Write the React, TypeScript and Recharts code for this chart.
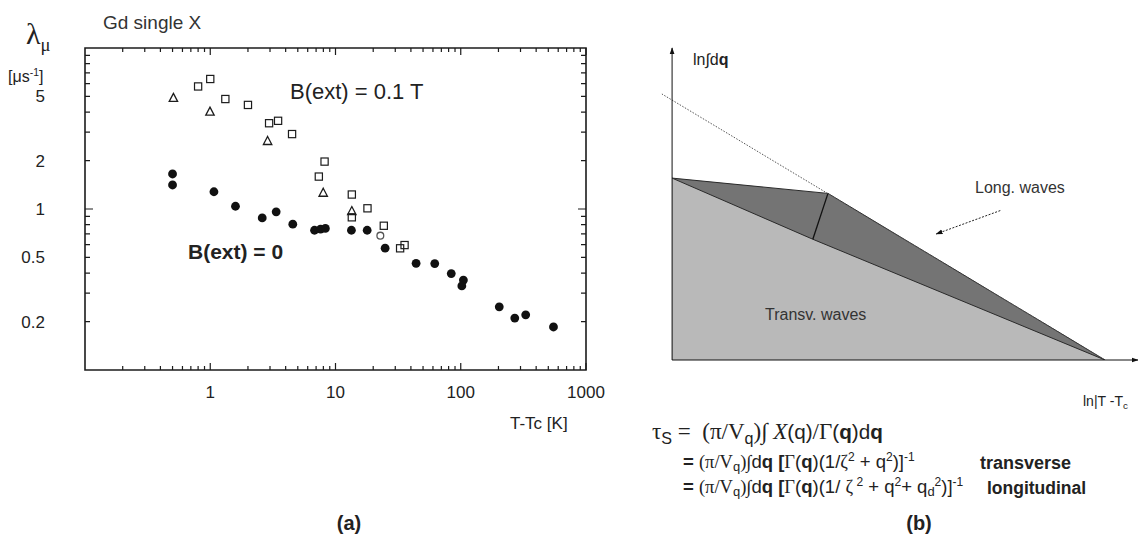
import React from 'react'
import {
  ScatterChart,
  Scatter,
  XAxis,
  YAxis,
  ComposedChart,
  Area,
  Line,
  ReferenceLine,
  ReferenceArea,
} from 'recharts'

/* ------------------------------------------------------------------ */
/*  Data, panel (a): muon relaxation rate vs T - Tc                    */
/* ------------------------------------------------------------------ */

// B(ext) = 0, filled circles
const B0_T = [0.5, 0.5, 1.07, 1.59, 2.6, 3.36, 4.56, 6.8, 7.6, 8.3, 13.4, 17.9, 24.9, 44, 62, 84, 105, 102, 203, 270, 330, 550]
const B0_RATE = [1.65, 1.41, 1.28, 1.04, 0.88, 0.96, 0.805, 0.738, 0.75, 0.757, 0.738, 0.738, 0.571, 0.46, 0.458, 0.397, 0.362, 0.333, 0.247, 0.21, 0.22, 0.185]

// B(ext) = 0.1 T, open squares
const SQ_T = [0.8, 1.0, 1.32, 2.0, 2.95, 3.48, 4.5, 8.18, 7.36, 13.5, 18.0, 24.3, 13.5, 32.8, 35.6]
const SQ_RATE = [5.77, 6.42, 4.82, 4.43, 3.41, 3.53, 2.92, 1.97, 1.59, 1.23, 1.01, 0.787, 0.888, 0.57, 0.597]

// B(ext) = 0.1 T, open triangles
const TRI_T = [0.508, 0.995, 2.87, 7.98, 13.5]
const TRI_RATE = [4.89, 4.02, 2.64, 1.26, 0.97]

// stray open circle
const OPEN_T = [22.8]
const OPEN_RATE = [0.683]

const X_MAJOR = [1, 10, 100, 1000]
const X_LABELS = ['1', '10', '100', '1000']
const X_MINOR = [
  0.2, 0.3, 0.4, 0.5, 0.6, 0.7, 0.8, 0.9,
  2, 3, 4, 5, 6, 7, 8, 9,
  20, 30, 40, 50, 60, 70, 80, 90,
  200, 300, 400, 500, 600, 700, 800, 900,
]
const Y_MAJOR = [1]
const Y_MINOR = [0.2, 0.3, 0.4, 0.5, 0.6, 0.7, 0.8, 0.9, 2, 3, 4, 5, 6, 7, 8, 9]
const Y_LABELED = [0.2, 0.5, 1, 2, 5]
const Y_LABELS = ['0.2', '0.5', '1', '2', '5']

/* ------------------------------------------------------------------ */
/*  Data, panel (b): schematic ln∫dq vs ln|T - Tc|                     */
/* ------------------------------------------------------------------ */

const DARK_X = [0, 36, 100]
const DARK_Y = [58.3, 53.4, 0]
const LIGHT_X = [0, 32.5, 100]
const LIGHT_Y = [58.3, 38.7, 0]
const DIVIDER_X = [36, 32.5]
const DIVIDER_Y = [53.4, 38.7]
const ASYMPTOTE_X = [-2.4, 100]
const ASYMPTOTE_Y = [85.3, 0]

const zip = (xs: number[], ys: number[]) => xs.map((x, i) => ({ x, y: ys[i] }))

/* ------------------------------------------------------------------ */
/*  Styles                                                             */
/* ------------------------------------------------------------------ */

const SANS = '"Liberation Sans", Arial, Helvetica, sans-serif'
const SERIF = '"Liberation Serif", "Times New Roman", serif'
const INK = '#1c1c1c'

/* ------------------------------------------------------------------ */
/*  Marker shapes                                                      */
/* ------------------------------------------------------------------ */

const Dot = (p: any) => <circle cx={p.cx} cy={p.cy} r={4.4} fill="#111" />
const OpenDot = (p: any) => (
  <circle cx={p.cx} cy={p.cy} r={3.4} fill="none" stroke="#555" strokeWidth={1.3} />
)
const Square = (p: any) => (
  <rect x={p.cx - 3.6} y={p.cy - 3.6} width={7.2} height={7.2} fill="none" stroke={INK} strokeWidth={1.2} />
)
const Triangle = (p: any) => (
  <path
    d={`M${p.cx},${p.cy - 4.6} L${p.cx + 4.2},${p.cy + 3.4} L${p.cx - 4.2},${p.cy + 3.4} Z`}
    fill="none"
    stroke={INK}
    strokeWidth={1.3}
  />
)

/* ------------------------------------------------------------------ */
/*  Inward tick marks (drawn on reference lines) and tick labels      */
/* ------------------------------------------------------------------ */

function vTicks(len: number) {
  return function VTicks(p: any) {
    const top = Math.min(p.y1, p.y2)
    const bot = Math.max(p.y1, p.y2)
    return (
      <path d={`M${p.x1},${bot}v${-len}M${p.x1},${top}v${len}`} stroke={INK} strokeWidth={1.2} fill="none" />
    )
  }
}

function hTicks(len: number) {
  return function HTicks(p: any) {
    const left = Math.min(p.x1, p.x2)
    const right = Math.max(p.x1, p.x2)
    return (
      <path d={`M${left},${p.y1}h${len}M${right},${p.y1}h${-len}`} stroke={INK} strokeWidth={1.2} fill="none" />
    )
  }
}

function XLabel(props: any) {
  const { x, y, payload } = props
  const i = X_MAJOR.indexOf(payload.value)
  if (i < 0) return <g />
  return (
    <text x={x} y={y + 28} textAnchor="middle" fontFamily={SANS} fontSize={17} fill="#222">
      {X_LABELS[i]}
    </text>
  )
}

function YLabel(props: any) {
  const { x, y, payload } = props
  const i = Y_LABELED.indexOf(payload.value)
  if (i < 0) return <g />
  return (
    <text x={x - 40} y={y + 6} textAnchor="end" fontFamily={SANS} fontSize={17} fill="#222">
      {Y_LABELS[i]}
    </text>
  )
}

/* ------------------------------------------------------------------ */
/*  Absolutely placed text                                             */
/* ------------------------------------------------------------------ */

function Txt({ x, y, size = 16, center = false, style, children }: any) {
  return (
    <div
      style={{
        position: 'absolute',
        left: x,
        top: y,
        transform: center ? 'translate(-50%, -50%)' : 'translateY(-50%)',
        fontFamily: SANS,
        fontSize: size,
        lineHeight: 1.15,
        whiteSpace: 'nowrap',
        color: '#222',
        ...style,
      }}
    >
      {children}
    </div>
  )
}

const sub = { fontSize: '0.7em', verticalAlign: '-0.3em' }
const sup = { fontSize: '0.65em', verticalAlign: '0.55em' }

/* ------------------------------------------------------------------ */
/*  Panel (a)                                                          */
/* ------------------------------------------------------------------ */

function PanelA() {
  const xTicks = [...X_MINOR, ...X_MAJOR].sort((a, b) => a - b)
  const yTicks = [...Y_MINOR, ...Y_MAJOR].sort((a, b) => a - b)
  return (
    <div style={{ position: 'absolute', left: 0, top: 0 }}>
      <ScatterChart width={620} height={440} margin={{ top: 48, right: 34, bottom: 40, left: 25 }}>
        <XAxis
          xAxisId="bottom"
          type="number"
          dataKey="x"
          scale="log"
          domain={[0.1, 1000]}
          allowDataOverflow
          ticks={xTicks}
          interval={0}
          tickSize={0}
          tickMargin={0}
          tickLine={false}
          tick={XLabel}
          axisLine={false}
          height={30}
        />
        <YAxis
          yAxisId="left"
          type="number"
          dataKey="y"
          scale="log"
          domain={[0.1, 10]}
          allowDataOverflow
          ticks={yTicks}
          interval={0}
          tickSize={0}
          tickMargin={0}
          tickLine={false}
          tick={YLabel}
          axisLine={false}
          width={60}
        />
        <ReferenceArea
          xAxisId="bottom"
          yAxisId="left"
          x1={0.1}
          x2={1000}
          y1={0.1}
          y2={10}
          fill="none"
          fillOpacity={0}
          stroke={INK}
          strokeWidth={1.6}
          ifOverflow="visible"
        />
        {X_MINOR.map((v) => (
          <ReferenceLine key={`xm${v}`} xAxisId="bottom" yAxisId="left" x={v} shape={vTicks(4)} />
        ))}
        {X_MAJOR.map((v) => (
          <ReferenceLine key={`xM${v}`} xAxisId="bottom" yAxisId="left" x={v} shape={vTicks(7)} ifOverflow="visible" />
        ))}
        {Y_MINOR.map((v) => (
          <ReferenceLine key={`ym${v}`} xAxisId="bottom" yAxisId="left" y={v} shape={hTicks(5)} />
        ))}
        {Y_MAJOR.map((v) => (
          <ReferenceLine key={`yM${v}`} xAxisId="bottom" yAxisId="left" y={v} shape={hTicks(8)} />
        ))}
        <Scatter xAxisId="bottom" yAxisId="left" data={zip(SQ_T, SQ_RATE)} shape={Square} isAnimationActive={false} />
        <Scatter xAxisId="bottom" yAxisId="left" data={zip(TRI_T, TRI_RATE)} shape={Triangle} isAnimationActive={false} />
        <Scatter xAxisId="bottom" yAxisId="left" data={zip(OPEN_T, OPEN_RATE)} shape={OpenDot} isAnimationActive={false} />
        <Scatter xAxisId="bottom" yAxisId="left" data={zip(B0_T, B0_RATE)} shape={Dot} isAnimationActive={false} />
      </ScatterChart>
    </div>
  )
}

/* ------------------------------------------------------------------ */
/*  Panel (b)                                                          */
/* ------------------------------------------------------------------ */

function PanelB() {
  return (
    <div style={{ position: 'absolute', left: 640, top: 0 }}>
      <ComposedChart width={498} height={400} margin={{ top: 48, right: 0, bottom: 40, left: 21.7 }}>
        <defs>
          <marker id="arrowHead" viewBox="0 0 10 10" refX="9" refY="5" markerWidth="7" markerHeight="7" orient="auto">
            <path d="M0,1.5 L10,5 L0,8.5 Z" fill="#111" />
          </marker>
        </defs>
        <XAxis type="number" dataKey="x" domain={[-2.4, 107.6]} allowDataOverflow hide />
        <YAxis type="number" dataKey="y" domain={[0, 100]} allowDataOverflow hide />
        <Area
          data={zip(DARK_X, DARK_Y)}
          dataKey="y"
          type="linear"
          fill="#747474"
          fillOpacity={1}
          stroke="#2a2a2a"
          strokeWidth={1}
          dot={false}
          activeDot={false}
          isAnimationActive={false}
        />
        <Area
          data={zip(LIGHT_X, LIGHT_Y)}
          dataKey="y"
          type="linear"
          fill="#b9b9b9"
          fillOpacity={1}
          stroke="#2a2a2a"
          strokeWidth={1}
          dot={false}
          activeDot={false}
          isAnimationActive={false}
        />
        <Line
          data={zip(DIVIDER_X, DIVIDER_Y)}
          dataKey="y"
          type="linear"
          stroke="#111"
          strokeWidth={1.3}
          dot={false}
          activeDot={false}
          isAnimationActive={false}
        />
        <Line
          data={zip(ASYMPTOTE_X, ASYMPTOTE_Y)}
          dataKey="y"
          type="linear"
          stroke="#555"
          strokeWidth={1}
          strokeDasharray="1.5 1.5"
          dot={false}
          activeDot={false}
          isAnimationActive={false}
        />
        <ReferenceLine
          segment={[{ x: 0, y: 0 }, { x: 0, y: 100 }]}
          stroke="#111"
          strokeWidth={1}
          markerEnd="url(#arrowHead)"
        />
        <ReferenceLine
          segment={[{ x: 0, y: 0 }, { x: 107.6, y: 0 }]}
          stroke="#111"
          strokeWidth={1}
          markerEnd="url(#arrowHead)"
        />
        <ReferenceLine
          segment={[{ x: 75.8, y: 47.9 }, { x: 61.0, y: 40.4 }]}
          stroke="#222"
          strokeWidth={1}
          strokeDasharray="2 1.5"
          markerEnd="url(#arrowHead)"
        />
      </ComposedChart>
    </div>
  )
}

/* ------------------------------------------------------------------ */
/*  App                                                                */
/* ------------------------------------------------------------------ */

const NB = '\u00a0'

export default function App() {
  return (
    <div style={{ position: 'absolute', left: 0, top: 0, width: 1138, height: 541, background: '#fff', overflow: 'hidden' }}>
      <PanelA />
      <PanelB />

      {/* panel (a) text */}
      <Txt x={26} y={36} size={30} style={{ fontFamily: SERIF }}>
        λ<span style={{ fontSize: '0.62em', verticalAlign: '-0.35em' }}>μ</span>
      </Txt>
      <Txt x={8} y={77} size={16}>
        [μs<span style={sup}>-1</span>]
      </Txt>
      <Txt x={103} y={23} size={19} style={{ color: '#333' }}>Gd single X</Txt>
      <Txt x={290} y={92} size={22}>B(ext) = 0.1 T</Txt>
      <Txt x={188} y={252} size={21} style={{ fontWeight: 700 }}>B(ext) = 0</Txt>
      <Txt x={510} y={424} size={17}>T-Tc [K]</Txt>
      <Txt x={349} y={523} size={20} center style={{ fontWeight: 700 }}>(a)</Txt>

      {/* panel (b) text */}
      <Txt x={693} y={60} size={16}>
        ln∫d<b>q</b>
      </Txt>
      <Txt x={975} y={188} size={16} style={{ color: '#333' }}>Long. waves</Txt>
      <Txt x={765} y={315} size={16} style={{ color: '#333' }}>Transv. waves</Txt>
      <Txt x={1083} y={402} size={14}>
        ln|T -T<span style={sub}>c</span>
      </Txt>

      <Txt x={652} y={433} size={23} style={{ fontFamily: SERIF }}>
        τ<span style={{ ...sub, fontFamily: SANS }}>S</span> ={NB}{NB}(π/V
        <span style={{ ...sub, fontFamily: SANS }}>q</span>)∫{NB}
        <i>X</i>
        <span style={{ fontFamily: SANS, fontSize: '0.9em' }}>(q)</span>/Γ
        <span style={{ fontFamily: SANS, fontSize: '0.9em' }}>
          (<b>q</b>)d<b>q</b>
        </span>
      </Txt>
      <Txt x={683} y={463} size={18.5}>
        <b>=</b> <span style={{ fontFamily: SERIF }}>(π/V</span>
        <span style={sub}>q</span>
        <span style={{ fontFamily: SERIF }}>)∫</span>d<b>q</b> <b>[</b>
        <span style={{ fontFamily: SERIF }}>Γ</span>(<b>q</b>)(1/
        <span style={{ fontFamily: SERIF }}>ζ</span>
        <span style={sup}>2</span> + q<span style={sup}>2</span>)]<span style={sup}>-1</span>
      </Txt>
      <Txt x={980} y={463} size={18} style={{ fontWeight: 700 }}>transverse</Txt>
      <Txt x={683} y={488} size={18.5}>
        <b>=</b> <span style={{ fontFamily: SERIF }}>(π/V</span>
        <span style={sub}>q</span>
        <span style={{ fontFamily: SERIF }}>)∫</span>d<b>q</b> <b>[</b>
        <span style={{ fontFamily: SERIF }}>Γ</span>(<b>q</b>)(1/{' '}
        <span style={{ fontFamily: SERIF }}>ζ</span>
        <span style={sup}> 2</span> + q<span style={sup}>2</span>+ q<span style={sub}>d</span>
        <span style={sup}>2</span>)]<span style={sup}>-1</span>
      </Txt>
      <Txt x={987} y={488} size={17.5} style={{ fontWeight: 700 }}>longitudinal</Txt>
      <Txt x={919} y={523} size={20} center style={{ fontWeight: 700 }}>(b)</Txt>
    </div>
  )
}
